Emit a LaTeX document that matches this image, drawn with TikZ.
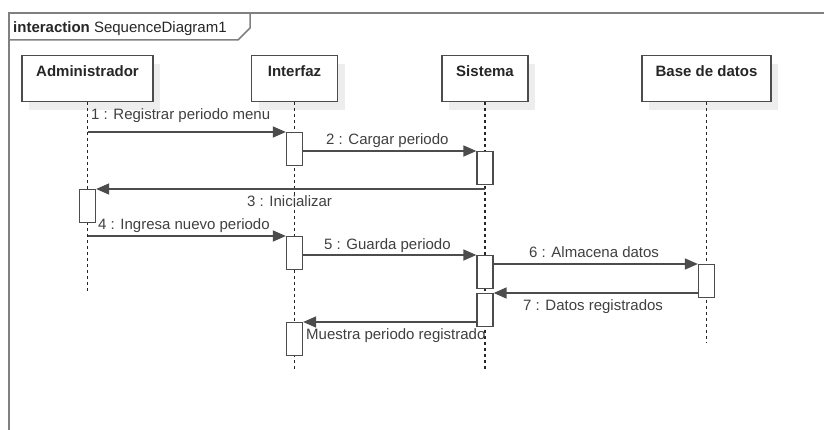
\documentclass[tikz,border=0pt]{standalone}
\usepackage{fontspec}
\setmainfont{Liberation Sans}
\usetikzlibrary{arrows.meta,shadows}

\begin{document}
\begin{tikzpicture}[x=1pt,y=-1pt,
    every node/.style={font=\fontsize{15}{18}\selectfont},
    frame/.style={black!50,line width=2.4pt},
    head/.style={draw=black!70,line width=1.3pt,fill=white,anchor=north,
      inner xsep=0pt,inner ysep=10pt,text height=11pt,text depth=15pt,
      font=\fontsize{15}{18}\selectfont\bfseries,text=black!85,
      drop shadow={shadow xshift=7pt,shadow yshift=-8pt,fill=black!7,opacity=1}},
    act/.style={draw=black!70,line width=1.3pt,fill=white,anchor=north,
      minimum width=16pt,minimum height=33pt,inner sep=0pt},
    life/.style={black!85,line width=1.4pt,dash pattern=on 3pt off 3pt},
    msg/.style={black!70,line width=1.6pt,-{Triangle[length=13pt,width=11pt]}},
    lbl/.style={anchor=base west,inner sep=0pt,text=black!75}]
      \useasboundingbox (0,0) rectangle (824,430);
      %this draws the frame
      \draw[frame] (9,430) -- (9,13) -- (824,13);
      \draw[frame,line width=1.5pt] (9,13) -- (250,13) -- (250,28) -- (238,40) -- (9,40);
      \node[lbl,text=black!85] (title) at (13,33) {\textbf{interaction} SequenceDiagram1};
      %this draws the heads
      \node[head,minimum width=131pt] (adm) at (87.5,55) {Administrador};
      \node[head,minimum width=86pt] (int) at (294.5,55) {Interfaz};
      \node[head,minimum width=86pt] (sis) at (485,55) {Sistema};
      \node[head,minimum width=129pt] (bd) at (706.5,55) {Base de datos};
      %this draws the lifelines
      \coordinate (adm-end) at (87.5,293);
      \coordinate (int-end) at (294.5,370);
      \coordinate (sis-end) at (485,370);
      \coordinate (bd-end) at (706.5,343);
      \foreach \x in {adm,int,sis,bd}
        \draw[life] (\x.south) -- (\x-end);
      %this draws the activations
      \foreach \n/\x/\y in {i1/294.5/132, s1/485/151, a1/87.5/189, i2/294.5/236,
          s2/485/255, b1/706.5/264, s3/485/293, i3/294.5/322}
        \node[act] (\n) at (\x,\y) {};
      %this draws the messages
      \draw[msg] (adm.south |- i1.north) -- (i1.north west);
      \draw[msg] (i1.east |- s1.north) -- (s1.north west);
      \draw[msg] (sis.south |- a1.north) -- (a1.north east);
      \draw[msg] (adm.south |- i2.north) -- (i2.north west);
      \draw[msg] (i2.east |- s2.north) -- (s2.north west);
      \draw[msg] (s2.east |- b1.north) -- (b1.north west);
      \draw[msg] (b1.west |- s3.north) -- (s3.north east);
      \draw[msg] (s3.west |- i3.north) -- (i3.north east);
      %this draws the labels
      \foreach \n/\x/\y/\t in {m1/91/120/{1 : Registrar periodo menu},
          m2/326/145/{2 : Cargar periodo}, m3/247/207/{3 : Inicializar},
          m4/98/230/{4 : Ingresa nuevo periodo}, m5/324/250/{5 : Guarda periodo},
          m6/529/258/{6 : Almacena datos}, m7/523/310/{7 : Datos registrados},
          m8/306/339/{Muestra periodo registrado}}
        \node[lbl] (\n) at (\x,\y) {\t};
\end{tikzpicture}
\end{document}
